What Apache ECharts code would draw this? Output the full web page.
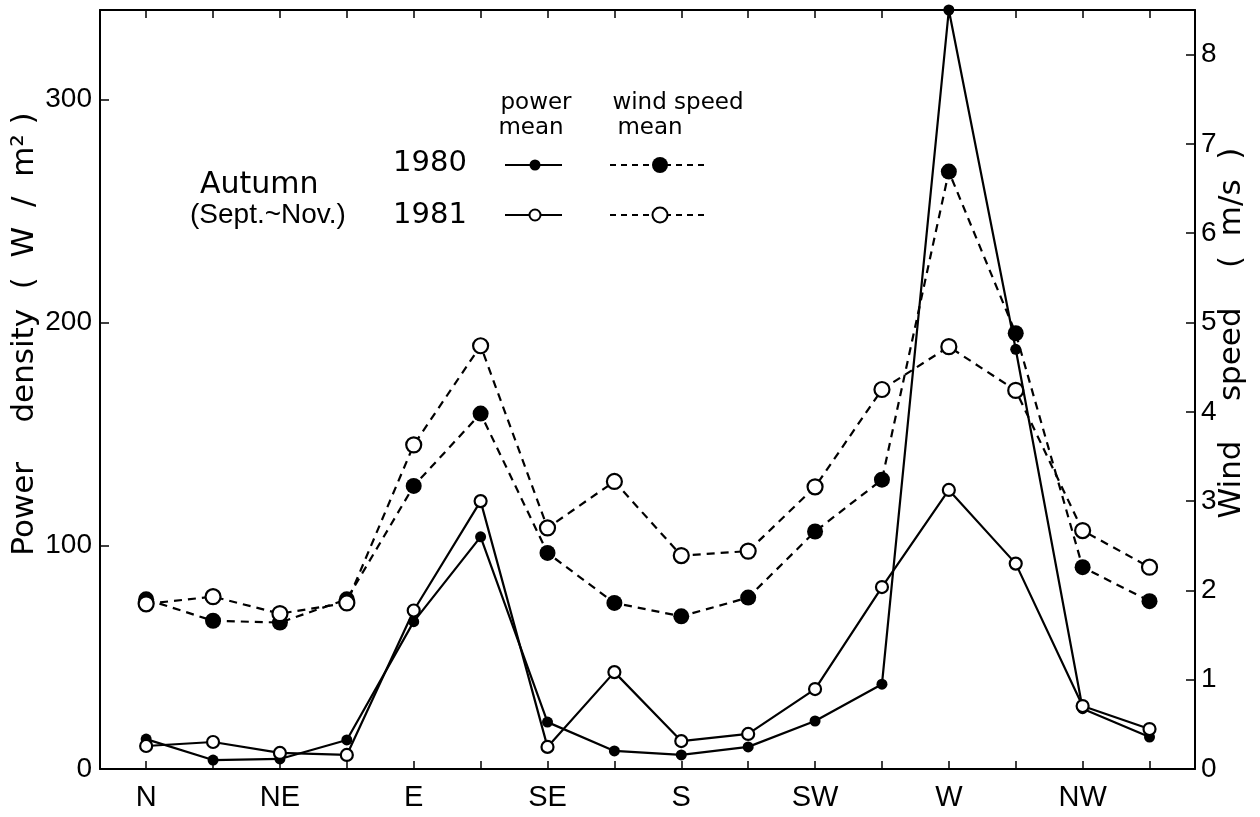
<!DOCTYPE html>
<html><head><meta charset="utf-8">
<script src="https://cdn.jsdelivr.net/npm/echarts@6/dist/echarts.min.js"></script>
<style>html,body{margin:0;padding:0;background:#fff}#c{width:1260px;height:817px}</style>
</head><body><div id="c"></div>
<script>
const directions = ['N','NNE','NE','ENE','E','ESE','SE','SSE','S','SSW','SW','WSW','W','WNW','NW','NNW'];
const labelIdx = [0,2,4,6,8,10,12,14];
const tickIdx = [0,1,2,3,4,5,6,7,8,9,10,11,12,13,14,15];
const power1980 = [13.4, 4.0, 4.5, 13.0, 66, 104, 21, 8.1, 6.3, 9.9, 21.5, 38, 340, 188, 27, 14.3];
const power1981 = [10.3, 12.1, 7.2, 6.3, 71, 120, 9.9, 43.4, 12.5, 15.7, 35.8, 81.5, 125, 92, 28.2, 17.9];
const wind1980 = [1.90, 1.66, 1.64, 1.90, 3.17, 3.98, 2.42, 1.86, 1.71, 1.92, 2.66, 3.24, 6.69, 4.88, 2.26, 1.88];
const wind1981 = [1.85, 1.93, 1.74, 1.86, 3.63, 4.74, 2.70, 3.22, 2.39, 2.44, 3.16, 4.25, 4.73, 4.24, 2.67, 2.26];
const powerTicks = [0,100,200,300];
const windTicks = [0,1,2,3,4,5,6,7,8];

const pairs = arr => arr.map((v,i)=>[i,v]);
const F = 'Liberation Sans';
const axisLineStyle = {color:'#000', width:2};

const chart = echarts.init(document.getElementById('c'), null, {renderer:'canvas'});
const xCommon = {
  type:'value', min:-0.69, max:15.68,
  axisLine:{show:true, onZero:false, lineStyle:axisLineStyle},
  axisTick:{show:true, inside:true, length:8, customValues:tickIdx, lineStyle:{color:'#000', width:1.5}},
  splitLine:{show:false}
};
chart.setOption({
  animation:false,
  backgroundColor:'#fff',
  grid:{left:100, right:65, top:10, bottom:48},
  xAxis:[
    Object.assign({}, xCommon, {position:'bottom',
      axisLabel:{show:true, customValues:labelIdx, formatter:v=>directions[v], fontFamily:F, fontSize:29, color:'#000', margin:14}}),
    Object.assign({}, xCommon, {position:'top', axisLabel:{show:false}})
  ],
  yAxis:[
    {type:'value', position:'left', min:0, max:340,
      axisLine:{show:true, onZero:false, lineStyle:axisLineStyle},
      axisTick:{show:true, inside:true, length:9, customValues:powerTicks, lineStyle:{color:'#000', width:1.5}},
      axisLabel:{customValues:powerTicks, fontFamily:F, fontSize:28, color:'#000', margin:8},
      splitLine:{show:false}},
    {type:'value', position:'right', min:0, max:8.5,
      axisLine:{show:true, onZero:false, lineStyle:axisLineStyle},
      axisTick:{show:true, inside:true, length:9, customValues:windTicks, lineStyle:{color:'#000', width:1.5}},
      axisLabel:{customValues:windTicks, fontFamily:F, fontSize:28, color:'#000', margin:6},
      splitLine:{show:false}}
  ],
  series:[
    {name:'1980 power', type:'line', yAxisIndex:0, data:pairs(power1980), clip:false,
      symbol:'circle', symbolSize:11, itemStyle:{color:'#000'},
      lineStyle:{color:'#000', width:2.2}, z:3},
    {name:'1981 power', type:'line', yAxisIndex:0, data:pairs(power1981), clip:false,
      symbol:'circle', symbolSize:12, itemStyle:{color:'#fff', borderColor:'#000', borderWidth:2.2},
      lineStyle:{color:'#000', width:2.2}, z:3},
    {name:'1980 wind', type:'line', yAxisIndex:1, data:pairs(wind1980), clip:false,
      symbol:'circle', symbolSize:16, itemStyle:{color:'#000'},
      lineStyle:{color:'#000', width:2.2, type:[8,6]}, z:2},
    {name:'1981 wind', type:'line', yAxisIndex:1, data:pairs(wind1981), clip:false,
      symbol:'circle', symbolSize:15, itemStyle:{color:'#fff', borderColor:'#000', borderWidth:2.2},
      lineStyle:{color:'#000', width:2.2, type:[8,6]}, z:2}
  ],
  graphic:[
    {type:'text', x:25, y:334, rotation:Math.PI/2, style:{text:'Power    density  (  W  /  m² )', font:'31px "DejaVu Sans"', fill:'#000', textAlign:'center', textVerticalAlign:'middle'}},
    {type:'text', x:1232, y:333, rotation:Math.PI/2, style:{text:'Wind    speed    (  m/s  )', font:'31px "DejaVu Sans"', fill:'#000', textAlign:'center', textVerticalAlign:'middle'}},
    {type:'text', x:536, y:103, style:{text:'power', font:'23px "DejaVu Sans"', fill:'#000', textAlign:'center', textVerticalAlign:'middle'}},
    {type:'text', x:531, y:128, style:{text:'mean', font:'23px "DejaVu Sans"', fill:'#000', textAlign:'center', textVerticalAlign:'middle'}},
    {type:'text', x:678, y:103, style:{text:'wind speed', font:'23px "DejaVu Sans"', fill:'#000', textAlign:'center', textVerticalAlign:'middle'}},
    {type:'text', x:650, y:128, style:{text:'mean', font:'23px "DejaVu Sans"', fill:'#000', textAlign:'center', textVerticalAlign:'middle'}},
    {type:'text', x:430, y:163, style:{text:'1980', font:'29px "DejaVu Sans"', fill:'#000', textAlign:'center', textVerticalAlign:'middle'}},
    {type:'text', x:430, y:215, style:{text:'1981', font:'29px "DejaVu Sans"', fill:'#000', textAlign:'center', textVerticalAlign:'middle'}},
    {type:'text', x:200, y:185, style:{text:'Autumn', font:'30px "DejaVu Sans"', fill:'#000', textAlign:'left', textVerticalAlign:'middle'}},
    {type:'text', x:190, y:215, style:{text:'(Sept.~Nov.)', font:'28px "Liberation Sans"', fill:'#000', textAlign:'left', textVerticalAlign:'middle'}},
    {type:'line', shape:{x1:505,y1:165,x2:562,y2:165}, style:{stroke:'#000', lineWidth:2}},
    {type:'circle', shape:{cx:535,cy:165,r:5.5}, style:{fill:'#000'}},
    {type:'line', shape:{x1:505,y1:215,x2:562,y2:215}, style:{stroke:'#000', lineWidth:2}},
    {type:'circle', shape:{cx:535,cy:215,r:5.5}, style:{fill:'#fff', stroke:'#000', lineWidth:2}},
    {type:'line', shape:{x1:610,y1:165,x2:705,y2:165}, style:{stroke:'#000', lineWidth:2, lineDash:[6,5]}},
    {type:'circle', shape:{cx:660,cy:165,r:8}, style:{fill:'#000'}},
    {type:'line', shape:{x1:610,y1:215,x2:705,y2:215}, style:{stroke:'#000', lineWidth:2, lineDash:[6,5]}},
    {type:'circle', shape:{cx:660,cy:215,r:7.5}, style:{fill:'#fff', stroke:'#000', lineWidth:2}}
  ]
});
</script></body></html>
